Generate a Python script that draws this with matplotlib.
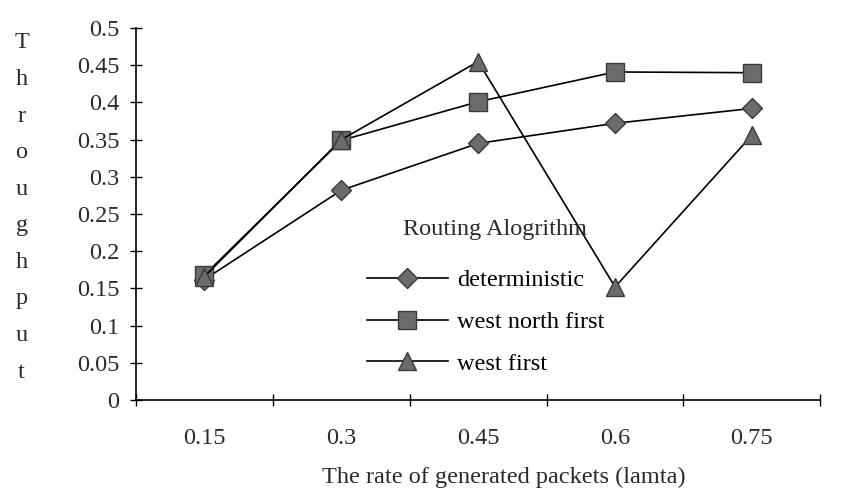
import matplotlib
matplotlib.use("Agg")
import matplotlib.pyplot as plt
import numpy as np

plt.rcParams['font.family'] = ['Liberation Serif', 'DejaVu Serif']

categories = ["0.15", "0.3", "0.45", "0.6", "0.75"]
deterministic = [0.162, 0.282, 0.345, 0.372, 0.392]
west_north_first = [0.168, 0.349, 0.401, 0.441, 0.440]
west_first = [0.166, 0.350, 0.455, 0.152, 0.356]
y_ticks = [0, 0.05, 0.1, 0.15, 0.2, 0.25, 0.3, 0.35, 0.4, 0.45, 0.5]
y_tick_labels = ["0", "0.05", "0.1", "0.15", "0.2", "0.25", "0.3", "0.35", "0.4", "0.45", "0.5"]

fig = plt.figure(figsize=(8.63, 5.04), dpi=100)
ax = fig.add_axes([0.1576, 0.2063, 0.793, 0.738])

x = np.arange(len(categories))
face = '#6b6b6b'
edge = '#3a3a3a'
txt = '#2a2a2a'
fs = 17.5

ax.plot(x, deterministic, color='black', lw=1.2, marker='D', ms=10,
        mfc=face, mec=edge, mew=1, label='deterministic')
ax.plot(x, west_north_first, color='black', lw=1.2, marker='s', ms=13,
        mfc=face, mec=edge, mew=1, label='west north first')
ax.plot(x, west_first, color='black', lw=1.2, marker='^', ms=13,
        mfc=face, mec=edge, mew=1, label='west first')

ax.set_xlim(-0.5, len(categories) - 0.5)
ax.set_ylim(0, 0.5)
ax.set_yticks(y_ticks)
ax.set_yticklabels(y_tick_labels, fontsize=fs, color=txt)
ax.set_xticks(x)
ax.set_xticklabels(categories, fontsize=fs, color=txt)
ax.set_xticks(np.arange(len(categories) + 1) - 0.5, minor=True)
ax.tick_params(axis='x', which='major', length=0, pad=20)
ax.tick_params(axis='x', which='minor', direction='inout', length=8, width=1)
ax.tick_params(axis='y', direction='inout', length=8, width=1, pad=8)

for s in ['top', 'right']:
    ax.spines[s].set_visible(False)
for s in ['left', 'bottom']:
    ax.spines[s].set_linewidth(1.2)

fig.text(0.584, 1 - 477 / 504, "The rate of generated packets (lamta)", ha='center',
         va='center', fontsize=fs, color=txt)

# vertical axis title, one letter per line
word = "Throughput"
ys = np.linspace(1 - 43 / 504, 1 - 372 / 504, len(word))
for ch, yy in zip(word, ys):
    fig.text(0.025, yy, ch, ha='center', va='center', fontsize=fs, color=txt)

leg = ax.legend(loc='upper left', bbox_to_anchor=(0.338, 0.352), frameon=False,
                fontsize=fs, handlelength=3.3, labelspacing=0.82,
                handletextpad=0.4, borderpad=0, borderaxespad=0)
fig.text(403 / 863, 1 - 230 / 504, "Routing Alogrithm", ha='left', va='center',
         fontsize=fs, color=txt)

fig.savefig('out.png', dpi=100)
